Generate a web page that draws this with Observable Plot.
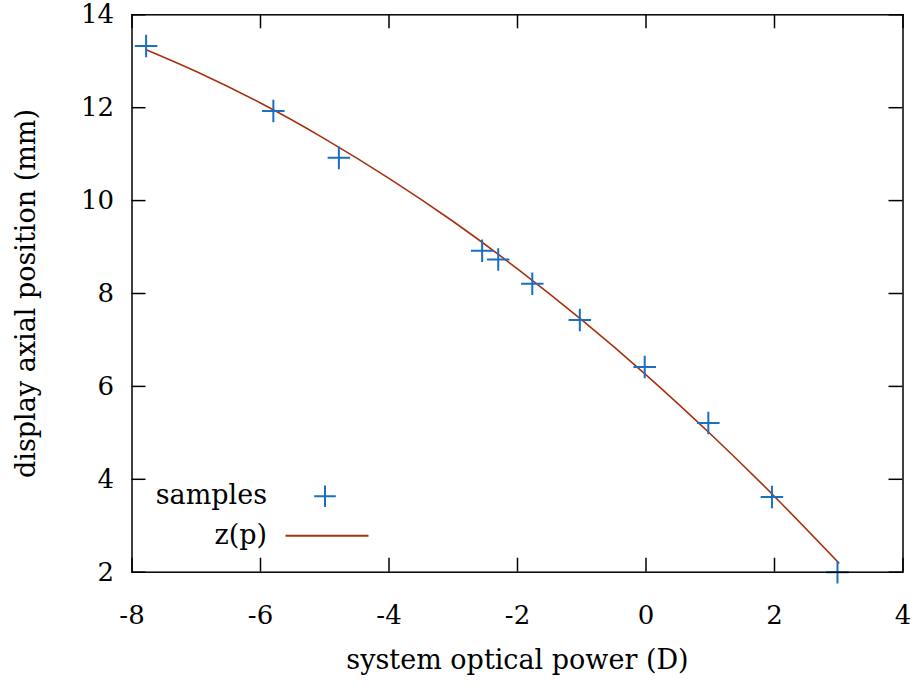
<!DOCTYPE html>
<html>
<head>
<meta charset="utf-8">
<script src="https://cdn.jsdelivr.net/npm/d3@7"></script>
<script src="https://cdn.jsdelivr.net/npm/@observablehq/plot@0.6"></script>
<style>
  html, body { margin: 0; padding: 0; background: #fff; }
  #chart svg { display: block; }
</style>
</head>
<body>
<div id="chart"></div>
<script>
// sample measurements (system optical power in D, display axial position in mm)
const samplePower = [-7.78, -5.8, -4.78, -2.55, -2.3, -1.77, -1.03, -0.02, 0.97, 1.96, 2.98];
const samplePos   = [13.33, 11.93, 10.92, 8.92, 8.73, 8.21, 7.43, 6.42, 5.21, 3.62, 2.0];

// fitted curve z(p)
const curvePower = [-7.78, -7, -6, -5, -4, -3, -2, -1, 0, 1, 2, 3];
const curvePos   = [13.25, 12.78, 12.10, 11.33, 10.48, 9.55, 8.53, 7.43, 6.25, 4.98, 3.63, 2.20];

const xTicks = [-8, -6, -4, -2, 0, 2, 4];
const yTicks = [2, 4, 6, 8, 10, 12, 14];

const legendLabels = ["samples", "z(p)"];

const samples = samplePower.map((p, i) => ({p, z: samplePos[i]}));
const curve = curvePower.map((p, i) => ({p, z: curvePos[i]}));

const W = 916, H = 693;
const mL = 131.5, mR = 13.5, mT = 14.3, mB = 121.3;
const innerW = W - mL - mR, innerH = H - mT - mB;
const tickLen = 14;
const blue = "#1a6fc0", red = "#a8300c";
const font = "'DejaVu Serif', 'Liberation Serif', serif";
const fmt = d => String(d);

const plot = Plot.plot({
  width: W,
  height: H,
  marginLeft: mL, marginRight: mR, marginTop: mT, marginBottom: mB,
  style: {fontFamily: font, fontSize: "26px", color: "#000", background: "#fff"},
  x: {domain: [-8, 4]},
  y: {domain: [2, 14]},
  marks: [
    Plot.axisX(xTicks, {tickSize: 0, tickPadding: 33, fontSize: 26, label: null, tickFormat: fmt}),
    Plot.axisY(yTicks, {tickSize: 0, tickPadding: 18, fontSize: 26, label: null, tickFormat: fmt}),
    Plot.text(["system optical power (D)"], {frameAnchor: "bottom", dy: 97, fontSize: 27}),
    Plot.text(["display axial position (mm)"], {frameAnchor: "left", dx: -106, rotate: -90, textAnchor: "middle", fontSize: 27}),
    Plot.tickX(xTicks, {x: d => d, insetTop: innerH - tickLen, stroke: "#000", strokeWidth: 1.5}),
    Plot.tickX(xTicks, {x: d => d, insetBottom: innerH - tickLen, stroke: "#000", strokeWidth: 1.5}),
    Plot.tickY(yTicks, {y: d => d, insetRight: innerW - tickLen, stroke: "#000", strokeWidth: 1.5}),
    Plot.tickY(yTicks, {y: d => d, insetLeft: innerW - tickLen, stroke: "#000", strokeWidth: 1.5}),
    Plot.line(curve, {x: "p", y: "z", stroke: red, strokeWidth: 1.6, curve: "natural"}),
    Plot.dot(samples, {x: "p", y: "z", symbol: "plus", r: 7.3, stroke: blue, strokeWidth: 2}),
    Plot.frame({stroke: "#000", strokeWidth: 1.5}),
    // legend
    Plot.text([legendLabels[0]], {frameAnchor: "bottom-left", dx: 135, dy: -68, textAnchor: "end", fontSize: 27}),
    Plot.text([legendLabels[1]], {frameAnchor: "bottom-left", dx: 135, dy: -28, textAnchor: "end", fontSize: 27}),
    Plot.dot([0], {frameAnchor: "bottom-left", dx: 193, dy: -76, symbol: "plus", r: 7, stroke: blue, strokeWidth: 2})
  ]
});

// legend line sample for z(p)
d3.select(plot).append("line")
  .attr("x1", mL + 154).attr("x2", mL + 237)
  .attr("y1", H - mB - 36).attr("y2", H - mB - 36)
  .attr("stroke", red).attr("stroke-width", 2);

document.getElementById("chart").appendChild(plot);
</script>
</body>
</html>
